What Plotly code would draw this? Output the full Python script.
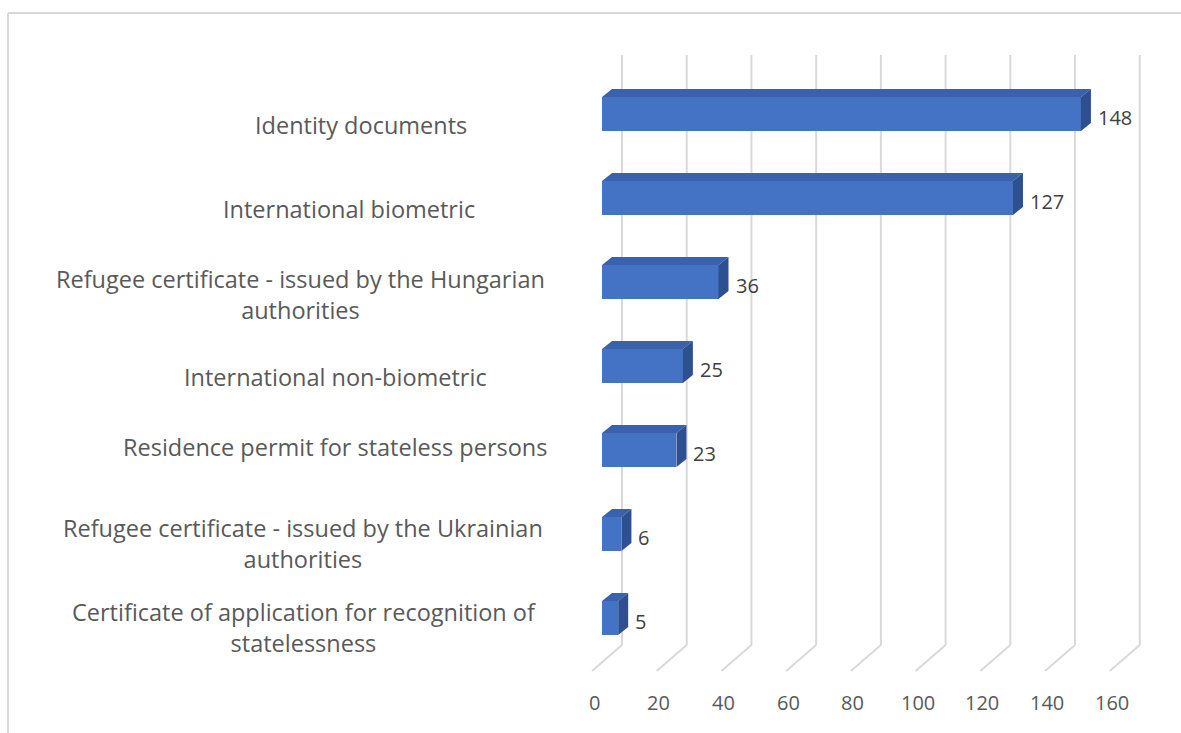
import plotly.graph_objects as go

# ---- data -------------------------------------------------------------
categories = [
    "Identity documents",
    "International biometric",
    "Refugee certificate - issued by the Hungarian\nauthorities",
    "International non-biometric",
    "Residence permit for stateless persons",
    "Refugee certificate - issued by the Ukrainian\nauthorities",
    "Certificate of application for recognition of\nstatelessness",
]
counts = [148, 127, 36, 25, 23, 6, 5]
tick_values = [0, 20, 40, 60, 80, 100, 120, 140, 160]
tick_labels = ["0", "20", "40", "60", "80", "100", "120", "140", "160"]

# ---- geometry / style ------------------------------------------------
W, H = 1181, 733
PX_PER_UNIT = 3.236          # horizontal pixels per value unit
X0_PX = 602                  # pixel of value 0 on the bar front plane
ROW0_PX = 114                # pixel centre of the first category row
ROW_PX = 84                  # pixel distance between rows

def ux(px):                  # pixel offset -> value units
    return px / PX_PER_UNIT

def uy(px):                  # pixel offset -> row units
    return px / ROW_PX

BAR_W = uy(34)               # thickness of the bar front face
DX, DY = ux(10), uy(8)       # 3-D depth offset of the bar top/side
WALL_DX = ux(20)             # back wall offset from bar front plane
FLOOR_DX = ux(-10)           # front floor edge offset
WALL_TOP = uy(55 - ROW0_PX)
WALL_BOT = uy(645 - ROW0_PX)
FLOOR_FRONT = uy(671 - ROW0_PX)
TICK_Y = uy(702 - ROW0_PX)
TICK_DX = ux(-8)

# horizontal centres (px) of the category labels and vertical nudge
label_center_px = [361, 349, 300, 335, 335, 303, 304]
label_dy_px = [11, 11, 12, 11, -3, 9, 9]

FRONT = "#4472C4"
TOP = "#3A62AC"
SIDE = "#2E5090"
GRID = "#D9D9D9"
TXT = "#595959"
FONT = "Open Sans"
CAT_SIZE = 23.5
NUM_SIZE = 20

rows = list(range(len(categories)))

fig = go.Figure()

# front faces of the bars
fig.add_trace(go.Bar(
    x=counts, y=rows, orientation="h", width=BAR_W,
    marker=dict(color=FRONT, line=dict(width=0)),
    hoverinfo="skip", showlegend=False,
))

# top and side faces give the bars their depth
for r, v in zip(rows, counts):
    top = r - BAR_W / 2
    bot = r + BAR_W / 2
    fig.add_trace(go.Scatter(
        x=[0, v, v + DX, DX, 0], y=[top, top, top - DY, top - DY, top],
        fill="toself", fillcolor=TOP, mode="lines",
        line=dict(width=0, color=TOP), hoverinfo="skip", showlegend=False,
    ))
    fig.add_trace(go.Scatter(
        x=[v, v + DX, v + DX, v, v], y=[top, top - DY, bot - DY, bot, top],
        fill="toself", fillcolor=SIDE, mode="lines",
        line=dict(width=0, color=SIDE), hoverinfo="skip", showlegend=False,
    ))

shapes = []
# back-wall gridlines and their floor continuations
for t in tick_values:
    shapes.append(dict(type="line", xref="x", yref="y", layer="below",
                       x0=t + WALL_DX, x1=t + WALL_DX, y0=WALL_TOP, y1=WALL_BOT,
                       line=dict(color=GRID, width=2)))
    shapes.append(dict(type="line", xref="x", yref="y", layer="below",
                       x0=t + WALL_DX, x1=t + FLOOR_DX, y0=WALL_BOT, y1=FLOOR_FRONT,
                       line=dict(color=GRID, width=2)))
# chart-area border (top and left edges)
shapes.append(dict(type="line", xref="paper", yref="paper",
                   x0=8 / W, x1=1, y0=1 - 13 / H, y1=1 - 13 / H,
                   line=dict(color=GRID, width=2)))
shapes.append(dict(type="line", xref="paper", yref="paper",
                   x0=8 / W, x1=8 / W, y0=0, y1=1 - 13 / H,
                   line=dict(color=GRID, width=2)))

annotations = []
# value axis tick labels
for t, lab in zip(tick_values, tick_labels):
    annotations.append(dict(x=t + TICK_DX, y=TICK_Y, text=lab, showarrow=False,
                            xanchor="center", yanchor="middle",
                            font=dict(family=FONT, size=NUM_SIZE, color=TXT)))
# category labels
for r, cat, cx, dy in zip(rows, categories, label_center_px, label_dy_px):
    annotations.append(dict(x=ux(cx - X0_PX), y=r + uy(dy),
                            text=cat.replace("\n", "<br>"), showarrow=False,
                            xanchor="center", yanchor="middle", align="center",
                            font=dict(family=FONT, size=CAT_SIZE, color=TXT)))
# data labels
for r, v in zip(rows, counts):
    annotations.append(dict(x=v + DX + ux(5), y=r + uy(3.5), text=str(v),
                            showarrow=False, xanchor="left", yanchor="middle",
                            font=dict(family=FONT, size=NUM_SIZE, color="#404040")))

fig.update_layout(
    width=W, height=H,
    margin=dict(l=0, r=0, t=0, b=0),
    paper_bgcolor="white", plot_bgcolor="white",
    xaxis=dict(range=[ux(-X0_PX), ux(W - X0_PX)], visible=False, fixedrange=True),
    yaxis=dict(range=[uy(H - ROW0_PX), uy(-ROW0_PX)], visible=False, fixedrange=True),
    shapes=shapes, annotations=annotations,
    bargap=0, showlegend=False,
)

fig.write_html("out.html")
